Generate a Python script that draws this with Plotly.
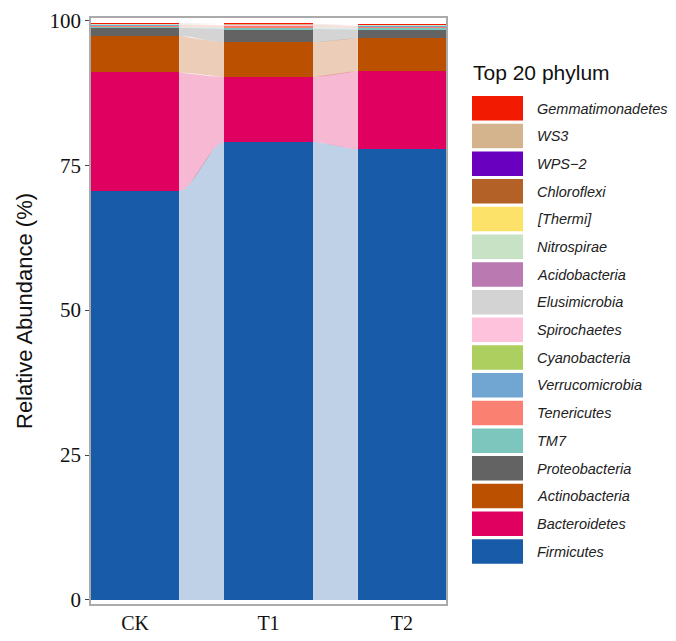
import numpy as np
import plotly.graph_objects as go

samples = ["CK", "T1", "T2"]
phyla = ["Firmicutes", "Bacteroidetes", "Actinobacteria", "Proteobacteria", "TM7",
         "Tenericutes", "Verrucomicrobia", "Cyanobacteria", "Spirochaetes",
         "Elusimicrobia", "Acidobacteria", "Nitrospirae", "[Thermi]", "Chloroflexi",
         "WPS\u22122", "WS3", "Gemmatimonadetes"]
colors = ["#185BA8", "#E00060", "#BA5000", "#636363", "#7CC6BE",
          "#FA8072", "#72A6D2", "#ADCF60", "#FFC2DC",
          "#D3D3D3", "#BA79B1", "#C7E2C4", "#FDE26A", "#B36127",
          "#6A00BF", "#D4B48C", "#F21A00"]
ck = [70.6, 20.4, 6.3, 1.4, 0.10, 0.35, 0.06, 0.05, 0.04, 0.03, 0.03, 0.02, 0.02, 0.02, 0.01, 0.01, 0.01]
t1 = [79.0, 11.2, 6.0, 2.3, 0.30, 0.30, 0.05, 0.04, 0.04, 0.03, 0.03, 0.02, 0.02, 0.02, 0.01, 0.01, 0.01]
t2 = [77.8, 13.4, 5.7, 1.5, 0.30, 0.30, 0.05, 0.04, 0.04, 0.03, 0.03, 0.02, 0.02, 0.02, 0.01, 0.01, 0.01]
y_ticks = [0, 25, 50, 75, 100]

vals = np.array([ck, t1, t2])  # samples x phyla
xpos = np.arange(len(samples))
bw = 0.66


def hex_rgba(h, a):
    h = h.lstrip("#")
    return f"rgba({int(h[0:2],16)},{int(h[2:4],16)},{int(h[4:6],16)},{a})"


fig = go.Figure()

# alluvial flows between adjacent bars
cum = np.cumsum(vals, axis=1)
bot = cum - vals
t = np.linspace(0, 1, 40)
s = 3 * t**2 - 2 * t**3
for i in range(len(samples) - 1):
    x0 = xpos[i] + bw / 2
    x1 = xpos[i + 1] - bw / 2
    xs = x0 + (x1 - x0) * t
    for j, p in enumerate(phyla):
        lo = bot[i, j] + (bot[i + 1, j] - bot[i, j]) * s
        hi = cum[i, j] + (cum[i + 1, j] - cum[i, j]) * s
        fig.add_trace(go.Scatter(
            x=np.concatenate([xs, xs[::-1]]),
            y=np.concatenate([lo, hi[::-1]]),
            fill="toself", mode="lines", line=dict(width=0),
            fillcolor=hex_rgba(colors[j], 0.28),
            hoverinfo="skip", showlegend=False))

for j, p in enumerate(phyla):
    fig.add_trace(go.Bar(x=xpos, y=vals[:, j], width=bw, name=p,
                         marker=dict(color=colors[j], line=dict(width=0)),
                         showlegend=False))

# page has an 8px body margin; figure coordinates below are in page pixels
OFF = 8
FW, FH = 676 - OFF, 641 - 2 * OFF
px_l, px_r, py_t, py_b = 91, 446, 18, 604
W, H = px_r - px_l, py_b - py_t


def xp(px):
    return (px - px_l) / W


def yp(py):
    return (py_b - py) / H


shapes = []
annotations = []
legend_order = phyla[::-1]
legend_colors = colors[::-1]
for k, (name, c) in enumerate(zip(legend_order, legend_colors)):
    top = 96 + 27.7 * k
    shapes.append(dict(type="rect", xref="paper", yref="paper",
                       x0=xp(472), x1=xp(523), y0=yp(top + 24.5), y1=yp(top),
                       fillcolor=c, line=dict(width=0)))
    annotations.append(dict(text=f"<i>{name}</i>", xref="paper", yref="paper",
                            x=xp(535), y=yp(top + 12.5), xanchor="left", yanchor="middle",
                            showarrow=False, font=dict(family="Liberation Sans", size=14.5, color="#222")))
annotations.append(dict(text="Top 20 phylum", xref="paper", yref="paper",
                        x=xp(471), y=yp(73), xanchor="left", yanchor="middle",
                        showarrow=False, font=dict(family="Liberation Sans", size=21, color="#111")))
annotations.append(dict(text="Relative Abundance (%)", xref="paper", yref="paper",
                        x=xp(24), y=yp(311), xanchor="center", yanchor="middle", textangle=-90,
                        showarrow=False, font=dict(family="Liberation Sans", size=22, color="#111")))

fig.update_layout(
    width=FW, height=FH,
    barmode="stack", bargap=0,
    plot_bgcolor="white", paper_bgcolor="white",
    margin=dict(l=px_l - OFF, r=FW - (px_r - OFF), t=py_t - OFF, b=FH - (py_b - OFF),
                autoexpand=False),
    shapes=shapes, annotations=annotations,
    xaxis=dict(range=[-bw / 2, 2 + bw / 2], tickvals=list(xpos), ticktext=samples,
               showgrid=False, zeroline=False, showline=True, mirror=True, automargin=False,
               linecolor="#aaaaaa", linewidth=1.5, ticks="",
               tickfont=dict(family="Liberation Serif", size=20, color="#111")),
    yaxis=dict(range=[-0.7, 100.4], tickvals=y_ticks, automargin=False,
               showgrid=False, zeroline=False, showline=True, mirror=True,
               linecolor="#aaaaaa", linewidth=1.5, ticks="outside", ticklen=4,
               tickcolor="#444", tickfont=dict(family="Liberation Serif", size=21, color="#111")),
)

fig.write_html("out.html")
